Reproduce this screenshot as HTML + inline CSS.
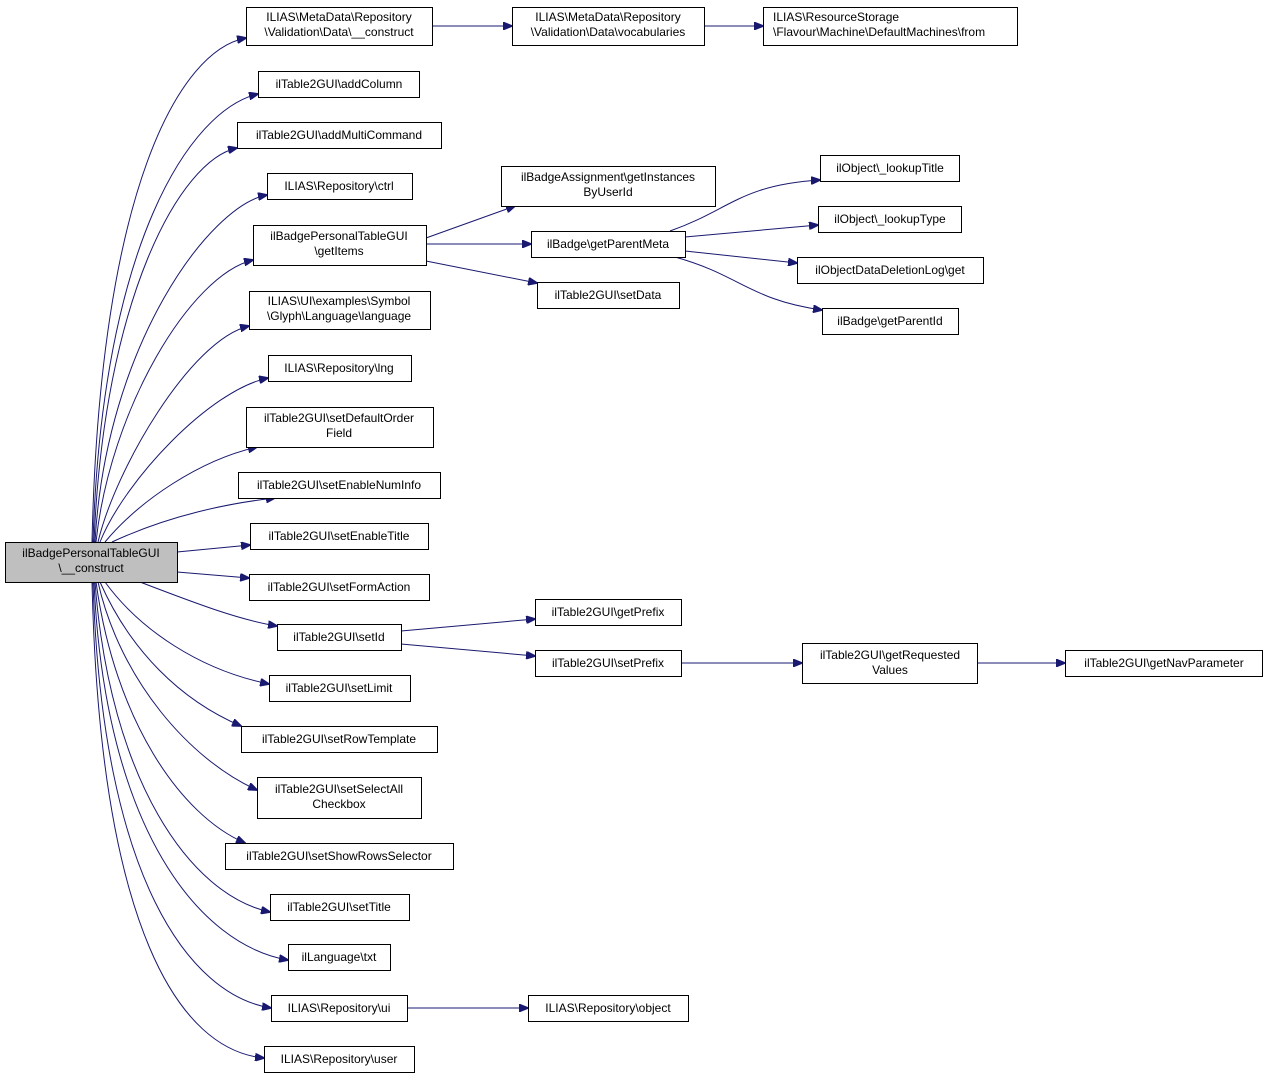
<!DOCTYPE html>
<html><head><meta charset="utf-8"><style>
html,body{margin:0;padding:0;background:#fff;}
svg{display:block;}
text{font-family:"Liberation Sans",Helvetica,Arial,sans-serif;font-size:12px;fill:#000;}
rect{fill:#fff;stroke:#000;stroke-width:1;}
path{fill:none;stroke:#191970;stroke-width:1;}
</style></head><body>
<svg width="1268" height="1078" viewBox="0 0 1268 1078" xmlns="http://www.w3.org/2000/svg">
<defs><marker id="a" markerWidth="10" markerHeight="8" refX="9" refY="4" orient="auto" markerUnits="userSpaceOnUse"><polygon points="0,0 10,4 0,8" fill="#191970" stroke="#191970"/></marker></defs>
<g marker-end="url(#a)">
<path d="M92,542 C100,188 180,50 246,38"/>
<path d="M93,542 C102,244 190,110 258,94"/>
<path d="M94,542 C104,298 180,160 237,148"/>
<path d="M95,542 C106,345 210,205 267,195"/>
<path d="M96,542 C110,410 190,275 253,260"/>
<path d="M98,542 C115,470 190,340 249,326"/>
<path d="M100,542 C125,480 210,390 268,378"/>
<path d="M105,542 C140,500 200,460 257,447"/>
<path d="M112,542 C170,515 230,503 275,498"/>
<path d="M177,552 L250,545"/>
<path d="M177,572 L249,578"/>
<path d="M140,582 C200,605 240,620 277,626"/>
<path d="M105,582 C140,630 200,670 269,684"/>
<path d="M100,582 C130,650 180,700 241,726"/>
<path d="M98,582 C120,680 190,760 257,790"/>
<path d="M96,582 C115,720 180,815 245,843"/>
<path d="M95,582 C110,780 190,895 270,912"/>
<path d="M94,582 C105,830 200,945 288,960"/>
<path d="M93,582 C102,880 190,995 271,1008"/>
<path d="M92,582 C100,930 180,1050 264,1058"/>
<path d="M432,26 L512,26"/>
<path d="M704,26 L763,26"/>
<path d="M426,238 L515,206"/>
<path d="M426,244 L531,244"/>
<path d="M426,261 L537,283"/>
<path d="M670,231 C730,210 740,185 820,180"/>
<path d="M685,237 L818,225"/>
<path d="M685,251 L797,263"/>
<path d="M675,257 C740,275 750,300 822,310"/>
<path d="M401,631 L535,619"/>
<path d="M401,644 L535,656"/>
<path d="M681,663 L802,663"/>
<path d="M977,663 L1065,663"/>
<path d="M407,1008 L528,1008"/>
</g>
<rect x="5.5" y="542.5" width="172" height="40" style="fill:#bfbfbf"/>
<text x="91" y="557" text-anchor="middle">ilBadgePersonalTableGUI</text><text x="91" y="572" text-anchor="middle">\__construct</text>

<rect x="246.5" y="7.5" width="186" height="38"/><text x="339" y="21" text-anchor="middle">ILIAS\MetaData\Repository</text><text x="339" y="36" text-anchor="middle">\Validation\Data\__construct</text>
<rect x="258.5" y="71.5" width="161" height="26"/><text x="339" y="88" text-anchor="middle">ilTable2GUI\addColumn</text>
<rect x="237.5" y="122.5" width="204" height="26"/><text x="339" y="139" text-anchor="middle">ilTable2GUI\addMultiCommand</text>
<rect x="267.5" y="173.5" width="145" height="26"/><text x="339" y="190" text-anchor="middle">ILIAS\Repository\ctrl</text>
<rect x="253.5" y="225.5" width="173" height="40"/><text x="339" y="240" text-anchor="middle">ilBadgePersonalTableGUI</text><text x="339" y="255" text-anchor="middle">\getItems</text>
<rect x="249.5" y="291.5" width="181" height="38"/><text x="339" y="305" text-anchor="middle">ILIAS\UI\examples\Symbol</text><text x="339" y="320" text-anchor="middle">\Glyph\Language\language</text>
<rect x="268.5" y="355.5" width="143" height="26"/><text x="339" y="372" text-anchor="middle">ILIAS\Repository\lng</text>
<rect x="246.5" y="407.5" width="187" height="40"/><text x="339" y="422" text-anchor="middle">ilTable2GUI\setDefaultOrder</text><text x="339" y="437" text-anchor="middle">Field</text>
<rect x="238.5" y="472.5" width="202" height="26"/><text x="339" y="489" text-anchor="middle">ilTable2GUI\setEnableNumInfo</text>
<rect x="250.5" y="523.5" width="178" height="26"/><text x="339" y="540" text-anchor="middle">ilTable2GUI\setEnableTitle</text>
<rect x="249.5" y="574.5" width="180" height="26"/><text x="339" y="591" text-anchor="middle">ilTable2GUI\setFormAction</text>
<rect x="277.5" y="624.5" width="124" height="26"/><text x="339" y="641" text-anchor="middle">ilTable2GUI\setId</text>
<rect x="269.5" y="675.5" width="141" height="26"/><text x="339" y="692" text-anchor="middle">ilTable2GUI\setLimit</text>
<rect x="241.5" y="726.5" width="196" height="26"/><text x="339" y="743" text-anchor="middle">ilTable2GUI\setRowTemplate</text>
<rect x="257.5" y="777.5" width="164" height="41"/><text x="339" y="793" text-anchor="middle">ilTable2GUI\setSelectAll</text><text x="339" y="808" text-anchor="middle">Checkbox</text>
<rect x="225.5" y="843.5" width="228" height="26"/><text x="339" y="860" text-anchor="middle">ilTable2GUI\setShowRowsSelector</text>
<rect x="270.5" y="894.5" width="139" height="26"/><text x="339" y="911" text-anchor="middle">ilTable2GUI\setTitle</text>
<rect x="288.5" y="944.5" width="102" height="26"/><text x="339" y="961" text-anchor="middle">ilLanguage\txt</text>
<rect x="271.5" y="995.5" width="136" height="26"/><text x="339" y="1012" text-anchor="middle">ILIAS\Repository\ui</text>
<rect x="264.5" y="1046.5" width="150" height="26"/><text x="339" y="1063" text-anchor="middle">ILIAS\Repository\user</text>

<rect x="512.5" y="7.5" width="192" height="38"/><text x="608" y="21" text-anchor="middle">ILIAS\MetaData\Repository</text><text x="608" y="36" text-anchor="middle">\Validation\Data\vocabularies</text>
<rect x="501.5" y="166.5" width="214" height="40"/><text x="608" y="181" text-anchor="middle">ilBadgeAssignment\getInstances</text><text x="608" y="196" text-anchor="middle">ByUserId</text>
<rect x="531.5" y="231.5" width="154" height="26"/><text x="608" y="248" text-anchor="middle">ilBadge\getParentMeta</text>
<rect x="537.5" y="282.5" width="142" height="26"/><text x="608" y="299" text-anchor="middle">ilTable2GUI\setData</text>
<rect x="535.5" y="599.5" width="146" height="26"/><text x="608" y="616" text-anchor="middle">ilTable2GUI\getPrefix</text>
<rect x="535.5" y="650.5" width="146" height="26"/><text x="608" y="667" text-anchor="middle">ilTable2GUI\setPrefix</text>
<rect x="528.5" y="995.5" width="160" height="26"/><text x="608" y="1012" text-anchor="middle">ILIAS\Repository\object</text>

<rect x="763.5" y="7.5" width="254" height="38"/><text x="773" y="21">ILIAS\ResourceStorage</text><text x="773" y="36">\Flavour\Machine\DefaultMachines\from</text>
<rect x="820.5" y="155.5" width="139" height="26"/><text x="890" y="172" text-anchor="middle">ilObject\_lookupTitle</text>
<rect x="818.5" y="206.5" width="143" height="26"/><text x="890" y="223" text-anchor="middle">ilObject\_lookupType</text>
<rect x="797.5" y="257.5" width="186" height="26"/><text x="890" y="274" text-anchor="middle">ilObjectDataDeletionLog\get</text>
<rect x="822.5" y="308.5" width="136" height="26"/><text x="890" y="325" text-anchor="middle">ilBadge\getParentId</text>
<rect x="802.5" y="643.5" width="175" height="40"/><text x="890" y="659" text-anchor="middle">ilTable2GUI\getRequested</text><text x="890" y="674" text-anchor="middle">Values</text>
<rect x="1065.5" y="650.5" width="197" height="26"/><text x="1164" y="667" text-anchor="middle">ilTable2GUI\getNavParameter</text>
</svg>
</body></html>
